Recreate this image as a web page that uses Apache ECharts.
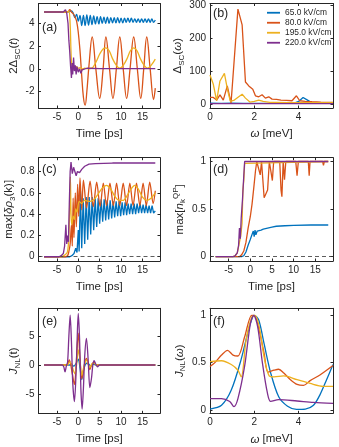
<!DOCTYPE html>
<html>
<head>
<meta charset="utf-8">
<script src="https://cdn.jsdelivr.net/npm/echarts@6/dist/echarts.min.js"></script>
<style>
html, body { margin: 0; padding: 0; background: #fff; }
#chart { width: 339px; height: 447px; }
</style>
</head>
<body>
<div id="chart"></div>
<script>
// legend names and MATLAB default colours
const fieldNames = ['65.0 kV/cm', '80.0 kV/cm', '195.0 kV/cm', '220.0 kV/cm']
const colors = ['#0072BD', '#D95319', '#EDB120', '#7E2F8E']

// tick labels
const timeTicks = [-5, 0, 5, 10, 15]
const omegaTicks = [0, 2, 4]
const aTicks = [-2, 0, 2, 4]
const bTicks = [0, 100, 200, 300]
const cTicks = [0, 0.2, 0.4, 0.6, 0.8]
const dTicks = [0, 0.5, 1]
const eTicks = [-5, 0, 5]
const fTicks = [0, 0.5, 1]

// (a) 2Δsc(t)
const a65 = [[-8,5.0],[-2.5,5.0],[-2,5.05],[-1.6,5.1],[-1.2,4.9],[-0.8,4.5],[-0.4,4.8],[0,4.2],[0.4,4.7],[0.8,3.8],[1.2,4.7],[1.6,3.8],[2.0,4.75],[2.4,3.85],[2.8,4.7],[3.2,3.9],[3.6,4.65],[4.0,3.95],[4.4,4.6],[4.8,3.95],[5.2,4.6],[5.6,4.0],[6.0,4.55],[6.4,4.0],[6.8,4.55],[7.2,4.0],[7.6,4.5],[8.0,4.05],[8.4,4.5],[8.8,4.05],[9.2,4.5],[9.6,4.05],[10.0,4.45],[10.4,4.05],[10.8,4.45],[11.2,4.1],[11.6,4.45],[12.0,4.1],[12.4,4.45],[12.8,4.1],[13.2,4.4],[13.6,4.1],[14.0,4.4],[14.4,4.1],[14.8,4.4],[15.2,4.1],[15.6,4.4],[16.0,4.1],[16.4,4.4],[16.8,4.1],[17.2,4.4],[17.6,4.1],[18.0,4.3]]
const a80 = [[-8,5.0],[-2.5,5.0],[-2.0,5.2],[-1.6,5.0],[-1.2,4.85],[-0.8,4.6],[-0.4,4.2],[0,3.2],[0.4,1.6],[0.8,-0.6],[1.2,-2.5],[1.6,-3.2],[2.0,-2.0],[2.5,0.3],[3.25,2.8],[4.1,0],[5.0,-2.6],[5.8,0],[6.45,2.8],[7.3,0],[8.1,-2.6],[8.9,0],[9.7,2.8],[10.5,0],[11.3,-2.6],[12.1,0],[12.95,2.8],[13.8,0],[14.6,-2.6],[15.3,0],[16.0,2.8],[16.8,0],[17.6,-2.7],[18,-1.7]]
const a195 = [[-8,5.0],[-2.5,5.0],[-2.2,5.1],[-1.9,3.9],[-1.7,1.5],[-1.5,0.3],[-1.2,0.1],[-0.8,-0.1],[-0.4,0.2],[0,0.05],[0.5,0.1],[1.0,0],[1.5,0.05],[2.0,0.02],[3.1,0.05],[4.0,0.5],[5.0,1.3],[5.8,1.75],[6.45,1.85],[7.2,1.6],[8.0,0.9],[8.9,0.3],[9.7,0.05],[10.5,0.3],[11.4,0.9],[12.2,1.6],[12.95,1.85],[13.7,1.6],[14.5,0.9],[15.4,0.3],[16.2,0.05],[17.1,0.35],[18,0.85]]
const a220 = [[-8,5.0],[-3.5,5.0],[-3.0,5.2],[-2.7,4.9],[-2.4,4.0],[-2.2,2.5],[-2.0,1.5],[-1.8,0.2],[-1.6,-0.8],[-1.45,0.5],[-1.3,-0.5],[-1.1,1.0],[-0.9,-0.2],[-0.7,0.3],[-0.5,-0.5],[-0.3,0.2],[0,-0.3],[0.3,0.0],[0.6,-0.4],[0.9,-0.1],[1.2,0.05],[2,0.05],[5,0.02],[18,0.02]]

// (b) Δsc(ω)
const b65 = [[0,3],[0.5,2],[1,2.5],[1.5,2],[2,2],[2.5,2],[3,2],[3.5,2.5],[3.8,3],[4.0,8],[4.2,20],[4.4,12],[4.6,4],[5,3],[5.55,3]]
const b80 = [[0,20],[0.15,20],[0.3,12],[0.45,28],[0.6,12],[0.78,55],[0.95,3],[1.26,288],[1.45,240],[1.6,67],[1.75,55],[1.93,45],[2.05,25],[2.2,22],[2.35,28],[2.5,18],[2.65,22],[2.8,15],[3.0,14],[3.2,12],[3.45,11],[3.7,10],[3.9,25],[4.05,10],[4.3,8],[4.6,7],[5.0,6],[5.55,5]]
const b195 = [[0,88],[0.15,60],[0.3,10],[0.45,70],[0.65,93],[0.8,40],[0.92,8],[1.1,12],[1.25,20],[1.45,30],[1.6,18],[1.8,6],[2.0,8],[2.2,12],[2.4,8],[2.7,5],[3.0,5],[3.5,4],[4.5,4],[5.55,4]]
const b220 = [[0,1.5],[1,1],[2,1],[3,1],[4,1],[5.55,1]]

// (c) max[δρ3(k)]
const c65 = [[-8,0],[-2,0],[-1.5,0.01],[-1,0.03],[-0.6,0.08],[-0.3,0.04],[0,0.25],[0.2,0.05],[0.5,0.62],[0.8,0.08],[1.15,0.55],[1.5,0.12],[1.85,0.56],[2.2,0.16],[2.55,0.56],[2.9,0.21],[3.25,0.56],[3.6,0.25],[3.95,0.55],[4.3,0.28],[4.65,0.55],[5.0,0.31],[5.35,0.54],[5.7,0.33],[6.05,0.54],[6.4,0.34],[6.75,0.53],[7.1,0.35],[7.45,0.53],[7.8,0.36],[8.15,0.52],[8.5,0.37],[8.85,0.52],[9.2,0.38],[9.55,0.52],[9.9,0.38],[10.25,0.51],[10.6,0.39],[10.95,0.51],[11.3,0.39],[11.65,0.5],[12.0,0.4],[12.35,0.5],[12.7,0.4],[13.05,0.5],[13.4,0.4],[13.75,0.5],[14.1,0.41],[14.45,0.5],[14.8,0.41],[15.15,0.49],[15.5,0.41],[15.85,0.49],[16.2,0.41],[16.55,0.48],[16.9,0.41],[17.25,0.48],[17.6,0.41],[18.0,0.43]]
const c80 = [[-8,0],[-3,0],[-2.5,0.01],[-2.2,0.05],[-1.9,0.12],[-1.6,0.3],[-1.4,0.1],[-1.2,0.55],[-1.0,0.18],[-0.7,0.6],[-0.45,0.28],[-0.15,0.68],[0.1,0.38],[0.4,0.74],[0.8,0.44],[1.2,0.72],[1.95,0.46],[2.75,0.71],[3.5,0.47],[4.3,0.7],[5.1,0.47],[5.85,0.69],[6.6,0.48],[7.4,0.69],[8.2,0.48],[8.95,0.69],[9.7,0.48],[10.5,0.69],[11.3,0.48],[12.05,0.69],[12.8,0.48],[13.6,0.69],[14.4,0.48],[15.15,0.69],[15.9,0.48],[16.7,0.7],[17.5,0.5],[18,0.62]]
const c195 = [[-8,0],[-4,0],[-3,0.02],[-2.5,0.05],[-2.2,0.2],[-2.0,0.5],[-1.85,0.75],[-1.7,0.4],[-1.5,0.3],[-1.2,0.38],[-0.9,0.35],[-0.6,0.45],[-0.3,0.42],[0.2,0.52],[0.8,0.5],[1.5,0.53],[2.5,0.52],[3.5,0.53],[4.5,0.58],[5.5,0.64],[6.6,0.67],[7.5,0.64],[8.5,0.57],[9.5,0.53],[10.5,0.53],[11.5,0.58],[12.4,0.64],[13.2,0.67],[14.1,0.63],[15.0,0.56],[16.0,0.53],[17.0,0.55],[18,0.6]]
const c220 = [[-8,0],[-4.5,0],[-4,0.01],[-3.5,0.03],[-3.2,0.1],[-2.9,0.3],[-2.7,0.12],[-2.5,0.2],[-2.3,0.14],[-2.1,0.5],[-1.9,0.8],[-1.7,0.89],[-1.4,0.78],[-1.1,0.84],[-0.8,0.8],[-0.5,0.76],[-0.2,0.8],[0.3,0.79],[0.8,0.82],[1.5,0.85],[2.5,0.87],[4,0.875],[8,0.88],[18,0.88]]

// (d) max[n_k^QP]
const d65 = [[-8,0],[-2,0],[-1.5,0.01],[-1,0.05],[-0.5,0.12],[0,0.18],[0.3,0.22],[0.5,0.2],[0.7,0.27],[0.9,0.21],[1.1,0.28],[1.3,0.23],[1.6,0.27],[2,0.26],[2.5,0.28],[3,0.29],[4,0.3],[5,0.31],[6,0.32],[8,0.325],[10,0.33],[14,0.333],[18,0.333]]
const d80 = [[-8,0],[-2.5,0],[-2,0.02],[-1.5,0.06],[-1,0.15],[-0.5,0.3],[0,0.42],[0.4,0.55],[0.8,0.72],[1.2,0.9],[1.5,1.0],[1.9,1.0],[2.3,0.86],[2.6,1.0],[2.9,1.0],[3.2,0.62],[3.6,0.6],[4.0,0.7],[4.4,1.0],[4.8,1.0],[5.1,0.8],[5.4,1.0],[6.8,1.0],[7.1,0.7],[7.3,0.63],[7.6,1.0],[7.9,0.81],[8.2,1.0],[10.5,1.0],[10.8,0.85],[11.1,1.0],[13.4,1.0],[13.6,0.85],[13.8,1.0],[16.7,1.0],[16.9,0.96],[17.1,1.0],[18,1.0]]
const d195 = [[-8,0],[-4,0],[-3.5,0.01],[-3,0.04],[-2.6,0.13],[-2.2,0.22],[-1.9,0.35],[-1.7,0.7],[-1.5,0.8],[-1.3,0.98],[-1.1,1.0],[18,1.0]]
const d220 = [[-8,0],[-4,0],[-3.5,0.01],[-3,0.04],[-2.7,0.12],[-2.5,0.3],[-2.3,0.19],[-2.1,0.4],[-1.8,0.6],[-1.5,0.85],[-1.3,1.0],[18,1.0]]

// (e) J_NL(t)
const e65 = [[-8,0],[-1.5,0],[-1,-0.2],[-0.5,0.3],[0,1.0],[0.4,-0.5],[0.8,-2.5],[1.2,-1.0],[1.6,0.0],[2.0,0.3],[2.4,0.2],[2.9,-0.2],[3.5,0.1],[4.2,0],[18,0]]
const e80 = [[-8,0],[-2.7,0],[-2.4,0.3],[-2.1,0.9],[-1.8,0.2],[-1.4,-1.5],[-0.9,-3.4],[-0.5,0],[0,5.5],[0.4,1.0],[0.8,-2.4],[1.2,-1.0],[1.6,0.6],[1.9,1.15],[2.3,0.3],[2.7,-0.8],[3.1,0],[3.7,0.5],[4.2,0],[5,0],[18,0]]
const e195 = [[-8,0],[-2.5,0],[-2.1,0.5],[-1.6,0.2],[-1.2,-0.8],[-0.8,-1.5],[-0.4,0],[0,2.6],[0.4,0.8],[0.8,-1.8],[1.2,-0.6],[1.6,0.5],[1.9,0.9],[2.3,0.2],[2.7,-0.4],[3.2,0.2],[3.7,0.3],[4.3,0],[18,0]]
const e220 = [[-8,0],[-3.8,0],[-3.4,-0.3],[-3.1,-1.2],[-2.8,-0.2],[-2.5,0.5],[-2.2,5],[-1.9,8.6],[-1.6,4],[-1.3,-3],[-0.9,-6.3],[-0.5,-1],[-0.2,6],[0,8.9],[0.3,4.5],[0.6,-4],[0.9,-7.6],[1.2,-4],[1.5,1.5],[1.9,4.6],[2.3,1.0],[2.7,-3.9],[3.1,-2.2],[3.4,0.0],[3.7,0.75],[4.0,0.3],[4.5,-0.3],[5,0],[18,0]]

// (f) J_NL(ω)
const f65 = [[0,0.01],[0.52,0.05],[0.96,0.21],[1.4,0.53],[1.78,0.88],[2.0,1.0],[2.2,0.95],[2.44,0.7],[2.74,0.39],[3.1,0.14],[3.5,0.04],[3.9,0.007],[4.3,0.01],[4.67,0.05],[4.96,0.16],[5.26,0.32],[5.55,0.48]]
const f80 = [[0,0.46],[0.22,0.5],[0.52,0.58],[0.79,0.63],[1.04,0.58],[1.26,0.57],[1.56,0.77],[1.88,1.0],[2.0,1.0],[2.22,0.84],[2.44,0.6],[2.62,0.4],[2.89,0.42],[3.1,0.43],[3.33,0.39],[3.63,0.32],[3.93,0.27],[4.22,0.26],[4.52,0.31],[4.96,0.37],[5.55,0.47]]
const f195 = [[0,0.51],[0.52,0.52],[0.96,0.48],[1.26,0.42],[1.41,0.35],[1.63,0.74],[1.88,0.98],[2.03,1.0],[2.22,0.88],[2.44,0.56],[2.67,0.36],[2.89,0.35],[3.33,0.36],[3.93,0.32],[4.52,0.28],[5.11,0.25],[5.55,0.25]]
const f220 = [[0,0.12],[0.52,0.12],[0.89,0.09],[1.08,0.035],[1.26,0.12],[1.56,0.46],[1.82,0.91],[1.97,1.0],[2.15,0.88],[2.37,0.49],[2.59,0.18],[2.74,0.09],[3.1,0.11],[3.93,0.095],[4.67,0.08],[5.55,0.07]]

const font = '"Liberation Sans", Arial, Helvetica, sans-serif'
const ink = '#262626'

const rich = {
  n: { fontSize: 11.5, color: ink, fontFamily: font },
  i: { fontSize: 11.5, color: ink, fontFamily: font, fontStyle: 'italic' },
  s: { fontSize: 8, color: ink, fontFamily: font, padding: [7, 0, 0, 0] },
  u: { fontSize: 8, color: ink, fontFamily: font, padding: [0, 0, 7, 0] },
}

const leftCol = { left: 38.5, width: 121.5 }
const rightCol = { left: 210, width: 123 }
const rows = [{ top: 3.5, height: 104.5 }, { top: 157.7, height: 103.3 }, { top: 308.3, height: 105 }]
const timeRange = [-9.3, 19.1]
const omegaRange = [0, 5.55]

const panels = [
  { tag: '(a)', tagPos: [42, 21], col: leftCol, row: rows[0], x: timeRange, xt: timeTicks, xName: 'Time [ps]',
    y: [-3.45, 5.75], yt: aTicks, yName: '{n|2Δ}{s|SC}{n|(}{i|t}{n|)}', yGap: 17,
    data: [a65, a80, a195, a220], smooth: [0.4, 0.4, 0.4, 0] },
  { tag: '(b)', tagPos: [213, 7], col: rightCol, row: rows[0], x: omegaRange, xt: omegaTicks, xName: '{i|ω}{n| [meV]}',
    y: [-12, 305], yt: bTicks, yName: '{n|Δ}{s|SC}{n|(}{i|ω}{n|)}', yGap: 22,
    data: [b65, b80, b195, b220], smooth: [0, 0, 0, 0] },
  { tag: '(c)', tagPos: [42, 163], col: leftCol, row: rows[1], x: timeRange, xt: timeTicks, xName: 'Time [ps]',
    y: [-0.04, 0.93], yt: cTicks, yName: '{n|max[}{i|δρ}{s|3}{n|(k)]}', yGap: 17,
    data: [c65, c80, c195, c220], smooth: [0, 0.3, 0.3, 0], zeroLine: true },
  { tag: '(d)', tagPos: [213, 163], col: rightCol, row: rows[1], x: timeRange, xt: timeTicks, xName: 'Time [ps]',
    y: [-0.045, 1.04], yt: dTicks, yName: '{n|max[}{i|n}{s|k}{u|QP}{n|]}', yGap: 23,
    data: [d65, d80, d195, d220], smooth: [0, 0, 0, 0], zeroLine: true },
  { tag: '(e)', tagPos: [42, 315], col: leftCol, row: rows[2], x: timeRange, xt: timeTicks, xName: 'Time [ps]',
    y: [-8.33, 9.78], yt: eTicks, yName: '{i|J}{s|NL}{n|(t)}', yGap: 17,
    data: [e65, e80, e195, e220], smooth: [0.3, 0.3, 0.3, 0.3] },
  { tag: '(f)', tagPos: [213, 315], col: rightCol, row: rows[2], x: omegaRange, xt: omegaTicks, xName: '{i|ω}{n| [meV]}',
    y: [-0.035, 1.074], yt: fTicks, yName: '{i|J}{s|NL}{n|(}{i|ω}{n|)}', yGap: 23,
    data: [f65, f80, f195, f220], smooth: [0.3, 0.3, 0.3, 0.3] },
]

const lineStyle = { color: ink, width: 1 }
const grid = [], xAxis = [], yAxis = [], series = [], graphic = []

panels.forEach((p, i) => {
  grid.push({ left: p.col.left, width: p.col.width, top: p.row.top, height: p.row.height })
  const tick = (vals) => ({ inside: true, length: 2.5, customValues: vals, lineStyle })
  const label = (vals) => ({ customValues: vals, margin: 4, fontSize: 10, color: ink, fontFamily: font })
  xAxis.push({
    gridIndex: i, type: 'value', min: p.x[0], max: p.x[1], position: 'bottom',
    axisLine: { onZero: false, lineStyle }, axisTick: tick(p.xt), axisLabel: label(p.xt),
    splitLine: { show: false },
    name: p.xName, nameLocation: 'middle', nameGap: 20,
    nameTextStyle: { fontSize: 11.5, color: ink, fontFamily: font, rich },
  })
  xAxis.push({
    gridIndex: i, type: 'value', min: p.x[0], max: p.x[1], position: 'top',
    axisLine: { onZero: false, lineStyle }, axisTick: tick(p.xt), axisLabel: { show: false },
    splitLine: { show: false },
  })
  yAxis.push({
    gridIndex: i, type: 'value', min: p.y[0], max: p.y[1], position: 'left',
    axisLine: { onZero: false, lineStyle }, axisTick: tick(p.yt), axisLabel: label(p.yt),
    splitLine: { show: false },
    name: p.yName, nameLocation: 'middle', nameGap: p.yGap, nameRotate: 90,
    nameTextStyle: { fontSize: 11.5, color: ink, fontFamily: font, rich },
  })
  yAxis.push({
    gridIndex: i, type: 'value', min: p.y[0], max: p.y[1], position: 'right',
    axisLine: { onZero: false, lineStyle }, axisTick: tick(p.yt), axisLabel: { show: false },
    splitLine: { show: false },
  })
  p.data.forEach((d, k) => {
    const s = {
      name: fieldNames[k], type: 'line', data: d,
      xAxisIndex: 2 * i, yAxisIndex: 2 * i,
      showSymbol: false, smooth: p.smooth[k], clip: true,
      lineStyle: { color: colors[k], width: 1.3 }, itemStyle: { color: colors[k] },
      z: 2 + k,
    }
    if (k === 0 && p.zeroLine) {
      s.markLine = {
        silent: true, symbol: 'none', label: { show: false },
        lineStyle: { color: '#333', type: [4, 3], width: 0.8 },
        data: [{ yAxis: 0 }],
      }
    }
    series.push(s)
  })
  graphic.push({
    type: 'text', left: p.tagPos[0], top: p.tagPos[1], z: 10,
    style: { text: p.tag, fontSize: 12.5, fill: ink, fontFamily: font },
  })
})

const chart = echarts.init(document.getElementById('chart'))
chart.setOption({
  animation: false,
  backgroundColor: '#fff',
  grid, xAxis, yAxis, series, graphic,
  legend: {
    data: fieldNames, orient: 'vertical', left: 267, top: 8, padding: 0,
    icon: 'rect', itemWidth: 13, itemHeight: 1.8, itemGap: 0.5,
    textStyle: { fontSize: 8.4, lineHeight: 9.5, color: ink, fontFamily: font },
    selectedMode: false,
  },
})
</script>
</body>
</html>
